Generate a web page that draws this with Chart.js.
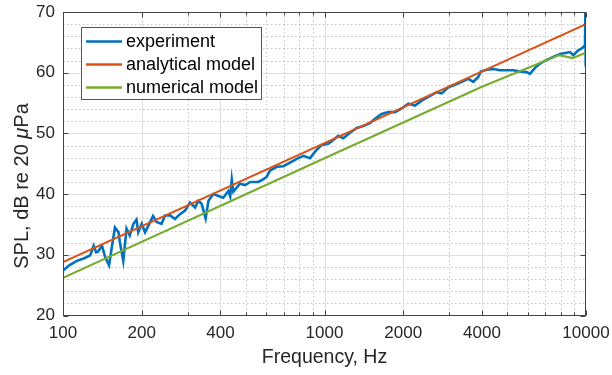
<!DOCTYPE html>
<html><head><meta charset="utf-8">
<script src="https://cdn.jsdelivr.net/npm/chart.js@4.4.0/dist/chart.umd.min.js"></script>
<style>html,body{margin:0;padding:0;background:#fff;}#wrap{width:612px;height:375px;position:relative;}</style>
</head><body><div id="wrap"><canvas id="c" width="612" height="375"></canvas></div>
<script>
const xTickValues = [100, 200, 400, 1000, 2000, 4000, 10000];
const yTickValues = [20, 30, 40, 50, 60, 70];
const seriesLabels = ['experiment', 'analytical model', 'numerical model'];

const experimentFreq = [100,106,113,120,127,131,134,136,141,145,150,154,158,163,165,170,175,180,186,191,194,200,206,212,221,228,238,246,257,268,280,293,306,320,329,339,351,360,376,393,410,429,436,442,448,475,497,520,558,580,600,620,657,696,738,783,830,880,920,976,1034,1080,1129,1180,1252,1328,1408,1493,1560,1655,1754,1861,1973,2092,2218,2353,2494,2686,2807,2975,3155,3347,3547,3707,3874,3960,4172,4421,4690,4975,5273,5592,5932,6107,6382,6669,7074,7497,7952,8435,8684,8940,9342,9629,9912,9950,9960,9970,9980,9990,10000];
const experimentSPL = [27.4,28.3,29.0,29.4,29.9,31.5,30.4,30.5,31.5,29.6,28.3,31.5,34.5,33.7,32.1,29.0,34.3,33.2,35.1,35.8,33.7,35.1,33.7,34.8,36.4,35.4,35.1,36.5,36.5,35.9,36.7,37.3,38.6,37.8,38.9,38.4,36.0,38.9,40.0,39.7,39.4,40.5,39.6,42.4,40.4,41.7,41.5,42.0,42.0,42.4,42.8,43.9,44.5,44.6,45.2,45.8,46.3,45.9,47.0,48.1,48.3,48.9,49.6,49.2,50.1,50.9,51.2,51.7,52.4,53.2,53.5,53.5,54.1,54.9,54.6,55.4,56.0,56.8,56.6,57.6,58.0,58.5,59.0,58.5,59.3,60.2,60.5,60.6,60.4,60.4,60.4,60.2,60.1,59.8,60.8,61.5,62.1,62.6,63.1,63.3,63.4,62.9,63.7,64.0,64.5,71.0,61.0,70.5,61.5,66.0,64.3];

const analyticalFreq = [100, 10000];
const analyticalSPL = [28.8, 68.0];

const numericalFreq = [100, 1000, 4000, 7900, 8900, 10000];
const numericalSPL = [26.2, 45.9, 57.7, 62.9, 62.4, 63.3];

const seriesColors = ['#0072BD', '#D95319', '#77AC30'];
const seriesWidths = [2.6, 2.2, 2.2];
const FONT = '"Liberation Sans", Arial, Helvetica, sans-serif';
const TXT = '#262626';

function pts(fs, vs) { return fs.map((f, i) => ({ x: f, y: vs[i] })); }

const matlabPlugin = {
  id: 'matlabAxes',
  beforeDatasetsDraw(chart) {
    const { ctx, chartArea: a, scales: { x, y } } = chart;
    ctx.save();
    ctx.lineWidth = 1;
    ctx.strokeStyle = 'rgba(0,0,0,0.22)';
    ctx.setLineDash([1.5, 2.5]);
    ctx.beginPath();
    for (const dec of [100, 1000]) {
      for (let k = 2; k <= 9; k++) {
        const v = dec * k;
        if (xTickValues.includes(v)) continue;
        const px = Math.round(x.getPixelForValue(v)) + 0.5;
        ctx.moveTo(px, a.top); ctx.lineTo(px, a.bottom);
      }
    }
    for (let v = 22; v < 70; v += 2) {
      if (v % 10 === 0) continue;
      const py = Math.round(y.getPixelForValue(v)) + 0.5;
      ctx.moveTo(a.left, py); ctx.lineTo(a.right, py);
    }
    ctx.stroke();
    ctx.setLineDash([]);
    ctx.strokeStyle = '#e0e0e0';
    ctx.beginPath();
    for (const v of xTickValues) {
      if (v === 100 || v === 10000) continue;
      const px = Math.round(x.getPixelForValue(v)) + 0.5;
      ctx.moveTo(px, a.top); ctx.lineTo(px, a.bottom);
    }
    for (const v of yTickValues) {
      if (v === 20 || v === 70) continue;
      const py = Math.round(y.getPixelForValue(v)) + 0.5;
      ctx.moveTo(a.left, py); ctx.lineTo(a.right, py);
    }
    ctx.stroke();
    ctx.restore();
  },
  afterDatasetsDraw(chart) {
    const { ctx, chartArea: a, scales: { x, y } } = chart;
    ctx.save();
    ctx.strokeStyle = '#444';
    ctx.lineWidth = 1;
    const L = Math.round(a.left) + 0.5, R = Math.round(a.right) - 0.5, T = Math.round(a.top) + 0.5, B = Math.round(a.bottom) - 0.5;
    ctx.strokeRect(L, T, R - L, B - T);
    ctx.beginPath();
    for (const dec of [100, 1000]) {
      for (let k = 1; k <= 10; k++) {
        const v = dec * k;
        const px = Math.round(x.getPixelForValue(v)) + 0.5;
        const len = xTickValues.includes(v) ? 5 : 3;
        ctx.moveTo(px, B); ctx.lineTo(px, B - len);
        ctx.moveTo(px, T); ctx.lineTo(px, T + len);
      }
    }
    for (const v of yTickValues) {
      const py = Math.round(y.getPixelForValue(v)) + 0.5;
      ctx.moveTo(L, py); ctx.lineTo(L + 5, py);
      ctx.moveTo(R, py); ctx.lineTo(R - 5, py);
    }
    ctx.stroke();

    // legend
    const bx = 81.5, by = 27.5, bw = 180, bh = 72;
    ctx.fillStyle = '#fff';
    ctx.fillRect(bx, by, bw, bh);
    ctx.strokeStyle = '#555';
    ctx.lineWidth = 1;
    ctx.strokeRect(bx, by, bw, bh);
    ctx.font = '18px ' + FONT;
    ctx.textBaseline = 'middle';
    ctx.textAlign = 'left';
    chart.data.datasets.forEach((ds, i) => {
      const cy = 41.5 + i * 23;
      ctx.strokeStyle = ds.borderColor;
      ctx.lineWidth = 2.4;
      ctx.beginPath();
      ctx.moveTo(86, cy); ctx.lineTo(122, cy);
      ctx.stroke();
      ctx.fillStyle = '#000';
      ctx.fillText(ds.label, 126, cy + 1);
    });

    // y axis title with italic mu
    ctx.fillStyle = TXT;
    const parts = [['SPL, dB re 20 ', '20px ' + FONT], ['\u03BC', 'italic 20px ' + FONT], ['Pa', '20px ' + FONT]];
    let total = 0;
    for (const [t, f] of parts) { ctx.font = f; total += ctx.measureText(t).width; }
    ctx.translate(22, 186);
    ctx.rotate(-Math.PI / 2);
    let cx = -total / 2;
    ctx.textBaseline = 'middle';
    for (const [t, f] of parts) { ctx.font = f; ctx.fillText(t, cx, 0); cx += ctx.measureText(t).width; }
    ctx.restore();
  }
};

new Chart(document.getElementById('c'), {
  type: 'line',
  data: {
    datasets: [
      { label: seriesLabels[0], data: pts(experimentFreq, experimentSPL), borderColor: seriesColors[0], borderWidth: seriesWidths[0], pointRadius: 0, tension: 0, order: 3, clip: 0 },
      { label: seriesLabels[1], data: pts(analyticalFreq, analyticalSPL), borderColor: seriesColors[1], borderWidth: seriesWidths[1], pointRadius: 0, tension: 0, order: 2, clip: 0 },
      { label: seriesLabels[2], data: pts(numericalFreq, numericalSPL), borderColor: seriesColors[2], borderWidth: seriesWidths[2], pointRadius: 0, tension: 0, order: 1, clip: 0 }
    ]
  },
  options: {
    responsive: false,
    animation: false,
    devicePixelRatio: 1,
    layout: { padding: { top: 12, right: 26, left: 0, bottom: 0 } },
    plugins: { legend: { display: false }, tooltip: { enabled: false } },
    scales: {
      x: {
        type: 'logarithmic', min: 100, max: 10000, position: 'bottom',
        grid: { display: false, drawTicks: false }, border: { display: false },
        afterBuildTicks: s => { s.ticks = xTickValues.map(v => ({ value: v })); },
        afterFit: s => { s.height = 59.5; s.paddingLeft = 0; s.paddingRight = 0; },
        ticks: { autoSkip: false, maxRotation: 0, padding: 8, color: TXT, font: { family: FONT, size: 17 }, callback: v => String(v) },
        title: { display: true, text: 'Frequency, Hz', color: TXT, font: { family: FONT, size: 19.5 }, padding: { top: 0, bottom: 6 } }
      },
      y: {
        type: 'linear', min: 20, max: 70, position: 'left',
        grid: { display: false, drawTicks: false }, border: { display: false },
        afterBuildTicks: s => { s.ticks = yTickValues.map(v => ({ value: v })); },
        afterFit: s => { s.width = 63; s.paddingTop = 0; s.paddingBottom = 0; },
        ticks: { padding: 8, color: TXT, font: { family: FONT, size: 17 } }
      }
    }
  },
  plugins: [matlabPlugin]
});
</script>
</body></html>
